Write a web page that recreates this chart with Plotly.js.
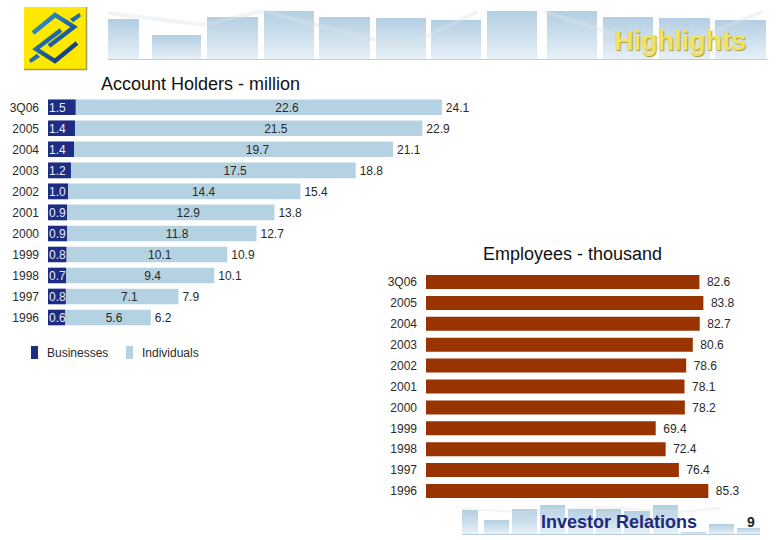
<!DOCTYPE html>
<html>
<head>
<meta charset="utf-8">
<script src="https://cdn.plot.ly/plotly-3.0.1.min.js"></script>
<style>html,body{margin:0;padding:0;background:#fff}#chart{width:780px;height:540px}</style>
</head>
<body>
<div id="chart"></div>
<script>
// ---- data ----
const categories = ["3Q06","2005","2004","2003","2002","2001","2000","1999","1998","1997","1996"];
const businessValues = [1.5,1.4,1.4,1.2,1.0,0.9,0.9,0.8,0.7,0.8,0.6];
// dark segment lengths as they are drawn in the picture (they differ from the printed figures)
const businessDrawn = [1.70,1.66,1.60,1.41,1.23,1.17,1.17,1.13,1.11,1.09,1.05];
const individualValues = [22.6,21.5,19.7,17.5,14.4,12.9,11.8,10.1,9.4,7.1,5.6];
const totalValues = [24.1,22.9,21.1,18.8,15.4,13.8,12.7,10.9,10.1,7.9,6.2];
const employeeValues = [82.6,83.8,82.7,80.6,78.6,78.1,78.2,69.4,72.4,76.4,85.3];
const seriesNames = ["Businesses","Individuals"];
const titleLeft = "Account Holders - million";
const titleRight = "Employees - thousand";
const headerText = "Highlights";
const footerText = "Investor Relations";
const pageNumber = "9";

// ---- styles ----
const FONT = "Liberation Sans, Arial, sans-serif";
const DARK = "#1e2c83", LIGHT = "#b5d2e2", RUST = "#993300", TXT = "#2a2a2a";
const fx = x => x/780, fy = y => 1-y/540;

// ---- decorative page furniture (logo, header and footer bands) ----
function band(rects, bottom){
  return rects.map(r => `<rect x="${r[0]}" y="${r[2]}" width="${r[1]-r[0]}" height="${bottom-r[2]}" fill="url(#g)"/>`).join("");
}
const headerRects = [[108,139,19],[152,201,35],[207,258,17],[264,314,11],[319,370,17],[376,426,18],[431,481,20],[487,537,11],[547,597,11],[603,653,17],[659,710,18],[715,766,20]];
const footerRects = [[462,478,510],[484,509,520],[512,537,509],[540,565,505],[568,593,509],[596,621,509],[624,650,511],[653,678,505],[681,706,532],[709,734,524],[737,760,528]];
const page = `<svg xmlns="http://www.w3.org/2000/svg" width="780" height="540" viewBox="0 0 780 540">
<defs>
<linearGradient id="g" x1="0" y1="0" x2="0" y2="1"><stop offset="0" stop-color="#b3cee2"/><stop offset="1" stop-color="#e7f0f7"/></linearGradient>
<linearGradient id="b" gradientUnits="userSpaceOnUse" x1="35" y1="15" x2="75" y2="60"><stop offset="0" stop-color="#2a9ad6"/><stop offset="1" stop-color="#12306f"/></linearGradient>
</defs>
${band(headerRects,59)}
<polyline points="108,13 205,25 262,11 403,47 477,12" fill="none" stroke="#dde4e9" stroke-opacity=".4" stroke-width="4"/>
<polyline points="545,12 666,50 762,12" fill="none" stroke="#dde4e9" stroke-opacity=".4" stroke-width="4"/>
<line x1="108" y1="59.5" x2="768" y2="59.5" stroke="#b9cfdf" stroke-width="1"/>
${band(footerRects,534)}
<polyline points="462,509 520,512 600,507 680,512 720,508" fill="none" stroke="#dde4e9" stroke-opacity=".4" stroke-width="2"/>
<line x1="462" y1="534.5" x2="760" y2="534.5" stroke="#b9cfdf" stroke-width="1"/>
<rect x="24" y="7" width="62" height="62" fill="#ffe800"/>
<path d="M24,69.5 H86.5 V7" fill="none" stroke="#a8985a" stroke-width="1.5"/>
<g fill="none" stroke="url(#b)" stroke-width="4.4" stroke-linejoin="miter">
<path d="M33,33 L55,15 L74,27 L49,46"/>
<path d="M77,43 L55,61 L36,49 L61,30"/>
</g>
<polygon points="70,19 79.3,13 81,16.3 73.3,22.3" fill="#1f6fb0"/>
<polygon points="40,57 30.7,63 29,59.7 36.7,53.7" fill="#1f6fb0"/>
</svg>`;

// ---- traces ----
const rows = categories.map((_, i) => i);
const textRows = rows.map(i => i + 0.06);   // text sits a hair below the row centre
const LEFT_ZERO_OFFSET = -2/16.26;
const LEFT_GAP = 4/16.26, RIGHT_GAP = 7.5/3.31;
const tLabelX = individualValues.map(v => 0.43 + 0.626*v);
const traces = [
  {type:"bar", orientation:"h", name:seriesNames[1], y:rows, x:totalValues, width:0.74,
   marker:{color:LIGHT, line:{width:0}}, xaxis:"x", yaxis:"y", hoverinfo:"skip"},
  {type:"bar", orientation:"h", name:seriesNames[0], y:rows, x:businessDrawn, width:0.74,
   base:LEFT_ZERO_OFFSET, marker:{color:DARK, line:{width:0}}, xaxis:"x", yaxis:"y", hoverinfo:"skip"},
  {type:"scatter", mode:"text", y:textRows, x:rows.map(()=>LEFT_ZERO_OFFSET+1/16.26), text:businessValues.map(v=>v.toFixed(1)),
   textposition:"middle right", textfont:{family:FONT,size:12,color:"#e8edf6"}, xaxis:"x", yaxis:"y", cliponaxis:false, hoverinfo:"skip"},
  {type:"scatter", mode:"text", y:textRows, x:tLabelX, text:individualValues.map(v=>v.toFixed(1)),
   textposition:"middle center", textfont:{family:FONT,size:12,color:TXT}, xaxis:"x", yaxis:"y", cliponaxis:false, hoverinfo:"skip"},
  {type:"scatter", mode:"text", y:textRows, x:totalValues.map(v=>v+LEFT_GAP), text:totalValues.map(v=>v.toFixed(1)),
   textposition:"middle right", textfont:{family:FONT,size:12,color:TXT}, xaxis:"x", yaxis:"y", cliponaxis:false, hoverinfo:"skip"},
  {type:"bar", orientation:"h", name:"Employees", y:rows, x:employeeValues, width:0.67,
   marker:{color:RUST, line:{width:0}}, xaxis:"x2", yaxis:"y2", hoverinfo:"skip"},
  {type:"scatter", mode:"text", y:textRows, x:employeeValues.map(v=>v+RIGHT_GAP), text:employeeValues.map(v=>v.toFixed(1)),
   textposition:"middle right", textfont:{family:FONT,size:12,color:TXT}, xaxis:"x2", yaxis:"y2", cliponaxis:false, hoverinfo:"skip"}
];

const tickFont = {family:FONT,size:12,color:TXT};
const hiddenX = {showgrid:false,zeroline:false,showline:false,showticklabels:false,ticks:""};
const catY = {type:"linear",tickmode:"array",tickvals:rows,ticktext:categories,range:[10.5,-0.5],
  showgrid:false,zeroline:false,showline:false,ticks:"",tickfont:tickFont,automargin:false,ticklabelstandoff:8};

const layout = {
  width:780,height:540,margin:{l:0,r:0,t:0,b:0},paper_bgcolor:"#fff",plot_bgcolor:"rgba(0,0,0,0)",
  showlegend:false,barmode:"overlay",font:{family:FONT,color:TXT},
  xaxis:Object.assign({},hiddenX,{domain:[fx(48),fx(480)],range:[LEFT_ZERO_OFFSET,430/16.26],anchor:"y"}),
  yaxis:Object.assign({},catY,{domain:[fy(328),fy(96.8)],anchor:"x"}),
  xaxis2:Object.assign({},hiddenX,{domain:[fx(426),fx(740)],range:[0,314/3.31],anchor:"y2"}),
  yaxis2:Object.assign({},catY,{domain:[fy(501.45),fy(271.55)],anchor:"x2"}),
  images:[{source:"data:image/svg+xml;charset=utf-8,"+encodeURIComponent(page),xref:"paper",yref:"paper",
    x:0,y:1,sizex:1,sizey:1,xanchor:"left",yanchor:"top",sizing:"stretch",layer:"below"}],
  shapes:[
    {type:"rect",xref:"paper",yref:"paper",x0:fx(31),x1:fx(38),y0:fy(359),y1:fy(346),fillcolor:DARK,line:{width:0}},
    {type:"rect",xref:"paper",yref:"paper",x0:fx(126),x1:fx(133),y0:fy(359),y1:fy(346),fillcolor:LIGHT,line:{width:0}}
  ],
  annotations:[
    {text:titleLeft,x:fx(200.5),y:fy(84),font:{family:FONT,size:18,color:"#111"}},
    {text:titleRight,x:fx(572.5),y:fy(254),font:{family:FONT,size:18,color:"#111"}},
    {text:seriesNames[0],x:fx(46),y:fy(352.5),xanchor:"left",font:tickFont},
    {text:seriesNames[1],x:fx(141),y:fy(352.5),xanchor:"left",font:tickFont},
    {text:"<b>"+headerText+"</b>",x:fx(680),y:fy(41),font:{family:FONT,size:27,color:"#f2e265",shadow:"1px 1px 1px #a89a3a"}},
    {text:"<b>"+footerText+"</b>",x:fx(618.5),y:fy(521.5),font:{family:FONT,size:18,color:"#1f2a7c"}},
    {text:"<b>"+pageNumber+"</b>",x:fx(751),y:fy(521.5),font:{family:FONT,size:14,color:"#222"}}
  ].map(a=>Object.assign({xref:"paper",yref:"paper",showarrow:false,xanchor:"center",yanchor:"middle",borderpad:0},a))
};

Plotly.newPlot("chart",traces,layout,{staticPlot:true,displayModeBar:false});
</script>
</body>
</html>
